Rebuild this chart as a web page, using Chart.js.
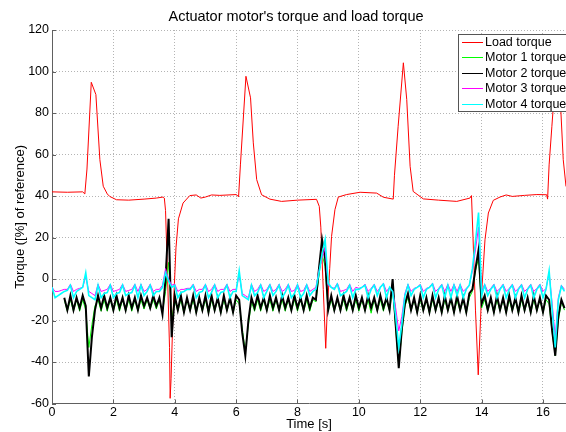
<!DOCTYPE html>
<html>
<head>
<meta charset="utf-8">
<script src="https://cdn.jsdelivr.net/npm/chart.js@4.4.0/dist/chart.umd.min.js"></script>
<style>
    html, body { margin: 0; padding: 0; background: #fff; }
</style>
</head>
<body>
<canvas id="torqueChart" width="566" height="432"></canvas>
<script>
/* --- Data --- */
const chartTitle = "Actuator motor's torque and load torque";
const seriesLabels = ['Load torque', 'Motor 1 torque', 'Motor 2 torque', 'Motor 3 torque', 'Motor 4 torque'];

// Load torque, irregular samples [s]
const loadTime = [0, 0.5, 1.0, 1.07, 1.14, 1.28, 1.43, 1.56, 1.67, 1.8,
    1.88, 2.1, 2.5, 3.0, 3.4, 3.62, 3.66, 3.7, 3.77, 3.83,
    3.85, 3.88, 3.94, 3.99, 4.04, 4.12, 4.27, 4.49, 4.7, 4.85,
    5.0, 5.2, 5.47, 6.01, 6.08, 6.14, 6.32, 6.47, 6.56, 6.67,
    6.83, 7.1, 7.48, 8.0, 8.62, 8.71, 8.76, 8.84, 8.92, 8.97,
    9.05, 9.11, 9.22, 9.33, 9.6, 10.04, 10.58, 10.8, 11.12, 11.16,
    11.28, 11.45, 11.56, 11.67, 11.77, 12.1, 12.6, 13.19, 13.62, 13.67,
    13.72, 13.8, 13.89, 13.95, 14.0, 14.11, 14.22, 14.38, 14.6, 14.8,
    15.0, 15.4, 15.8, 16.12, 16.15, 16.2, 16.29, 16.42, 16.5, 16.58,
    16.66, 16.75];
const loadTorque = [42, 41.8, 42, 41, 53, 94.8, 88.9, 57.5, 44.7, 41,
    39.8, 38.2, 38, 38.5, 39, 39.5, 39, 33, -1, -33,
    -57.5, -48, -18, -2, 15, 29, 36.6, 40.2, 40.5, 39,
    39.5, 40.5, 40.3, 40.7, 39.6, 55, 97.7, 87.3, 65.6, 47.9,
    40.6, 38.5, 37.4, 38, 38.4, 35, 25, -5, -33.4, -15,
    5, 20.5, 33.4, 39.5, 40.7, 41.8, 41.4, 39.4, 38.5, 50,
    73.6, 104.2, 86.5, 54.3, 42.2, 38.6, 38, 37.4, 39, 40.2,
    20, -15, -46.2, -25, -6.8, 18.9, 31.8, 37.9, 39.5, 40.5,
    39.8, 40.3, 40.7, 40.6, 38.5, 55, 73.6, 100, 92, 81.7,
    57.5, 44.6];

// Motor torques, sampled every 0.1 s
const motorTime = [0, 0.1, 0.2, 0.3, 0.4, 0.5, 0.6, 0.7, 0.8, 0.9,
    1, 1.1, 1.2, 1.3, 1.4, 1.5, 1.6, 1.7, 1.8, 1.9,
    2, 2.1, 2.2, 2.3, 2.4, 2.5, 2.6, 2.7, 2.8, 2.9,
    3, 3.1, 3.2, 3.3, 3.4, 3.5, 3.6, 3.7, 3.8, 3.9,
    4, 4.1, 4.2, 4.3, 4.4, 4.5, 4.6, 4.7, 4.8, 4.9,
    5, 5.1, 5.2, 5.3, 5.4, 5.5, 5.6, 5.7, 5.8, 5.9,
    6, 6.1, 6.2, 6.3, 6.4, 6.5, 6.6, 6.7, 6.8, 6.9,
    7, 7.1, 7.2, 7.3, 7.4, 7.5, 7.6, 7.7, 7.8, 7.9,
    8, 8.1, 8.2, 8.3, 8.4, 8.5, 8.6, 8.7, 8.8, 8.9,
    9, 9.1, 9.2, 9.3, 9.4, 9.5, 9.6, 9.7, 9.8, 9.9,
    10, 10.1, 10.2, 10.3, 10.4, 10.5, 10.6, 10.7, 10.8, 10.9,
    11, 11.1, 11.2, 11.3, 11.4, 11.5, 11.6, 11.7, 11.8, 11.9,
    12, 12.1, 12.2, 12.3, 12.4, 12.5, 12.6, 12.7, 12.8, 12.9,
    13, 13.1, 13.2, 13.3, 13.4, 13.5, 13.6, 13.7, 13.8, 13.9,
    14, 14.1, 14.2, 14.3, 14.4, 14.5, 14.6, 14.7, 14.8, 14.9,
    15, 15.1, 15.2, 15.3, 15.4, 15.5, 15.6, 15.7, 15.8, 15.9,
    16, 16.1, 16.2, 16.3, 16.4, 16.5, 16.6, 16.7];

const motor1 = [null, null, null, null, -10, -15.5, -10, -15.5, -10, -15.5,
    -10, -15, -33, -22, -13, -10, -15.5, -10, -15.5, -10,
    -15.5, -10, -15.5, -10, -15.5, -10, -15.5, -10, -15.5, -10,
    -14.5, -10, -14.5, -10, -14.5, -10, -16, -6, 8, -20,
    -10, -15.5, -10, -16.5, -10, -15.5, -10, -16.5, -10, -15.5,
    -10, -16.5, -10, -15.5, -10, -16.5, -10, -15.5, -10, -16.5,
    -10, -12, -24, -35, -22, -11, -15.5, -10, -15.5, -10,
    -15.5, -10, -15.5, -10, -15.5, -10, -15.5, -10, -15.5, -10,
    -15.5, -10, -15.5, -10, -15.5, -10, -11, 2, 12, 6,
    -15.5, -10, -15.5, -10, -15.5, -10, -15.5, -10, -15.5, -10,
    -15.5, -10, -15.5, -10, -16.5, -10, -15.5, -10, -15.5, -10,
    -15.5, -4, -24, -42, -26, -13, -9, -15.5, -10, -16.5,
    -10, -15.5, -10, -16.5, -10, -15.5, -10, -16.5, -10, -15.5,
    -10, -16.5, -10, -15.5, -10, -16.5, -9, -6, 4, 10,
    -14, -10, -15.5, -10, -16.5, -10, -15.5, -10, -16.5, -10,
    -15.5, -10, -16.5, -10, -15.5, -10, -16.5, -10, -15.5, -10,
    -16.5, -10, -12, -26, -37, -20, -11, -15];

const motor2 = [null, null, null, null, -9, -15, -8, -15, -9, -14,
    -8, -13, -47, -28, -15, -8, -14, -8, -14, -9,
    -15, -8, -14, -9, -15, -8, -14, -9, -15, -8,
    -13, -9, -14, -8, -13, -9, -17, 0, 29, -28,
    -8, -15, -8, -16, -9, -15, -8, -16, -9, -15,
    -8, -16, -8, -15, -9, -16, -8, -15, -9, -16,
    -8, -10, -26, -37, -20, -9, -14, -8, -14, -9,
    -15, -8, -14, -9, -15, -8, -14, -9, -15, -8,
    -14, -9, -15, -8, -14, -9, -10, 5, 19, 10,
    -15, -8, -15, -9, -15, -8, -14, -9, -15, -8,
    -14, -9, -15, -8, -14, -9, -15, -8, -14, -9,
    -15, 0, -22, -43, -24, -12, -7, -15, -9, -16,
    -8, -15, -9, -16, -8, -15, -9, -16, -8, -15,
    -9, -16, -8, -15, -9, -16, -7, -5, 5, 14,
    -12, -8, -15, -9, -16, -8, -15, -9, -16, -8,
    -15, -9, -16, -8, -15, -9, -16, -8, -15, -9,
    -16, -8, -10, -25, -37, -18, -10, -14];

const motor3 = [-4, -6, -6, -5.5, -5, -5, -2.5, -6, -5, -4.5,
    -4, 1, -6, -7, -8, -2.5, -6, -5.5, -5, -2.5,
    -6, -5.5, -5, -2.5, -6, -5.5, -5, -2.5, -6, -2.5,
    -6, -5, -2.5, -6, -5, -5, -3, 5, 0, -3,
    -2.5, -6, -5, -5, -4.5, -4.5, -2.5, -6, -5, -5,
    -2.5, -6, -5, -2.5, -6, -5, -5, -2.5, -6, -5,
    -5, 2, -7, -8, -9, -2.5, -6, -5, -2.5, -6,
    -5, -2.5, -6, -5, -2.5, -6, -5, -2.5, -6, -5.5,
    -2.5, -6, -5.5, -2.5, -6, -5, -4, 4, 10, 15,
    -3, -4, -4.5, -2, -6, -5.5, -5, -2.5, -6, -4,
    -4.5, -4, -2.5, -6, -4.5, -2.5, -6, -4, -2, -6,
    -4, -6, -14, -25, -18, -7, -2.5, -6, -4.5, -4,
    -2.5, -6, -4.5, -4, -2, -6, -4.5, -2.5, -6, -2.5,
    -6, -2.5, -6, -2.5, -6, -4.5, -3, 4, 14, 25,
    -6, -2.5, -6, -4.5, -2.5, -6, -4.5, -2.5, -6, -4.5,
    -2.5, -6, -4.5, -2.5, -6, -4.5, -2.5, -6, -4.5, -2.5,
    -6, -4.5, 3, -12, -28, -9, -3, -5];

const motor4 = [-4, -9, -8, -7, -6, -5.5, -3, -9, -6, -5,
    -4, 3, -8, -9, -10, -3, -9, -7, -6.5, -3,
    -9, -7, -6.5, -3, -8, -7, -6.5, -3, -9, -3,
    -8, -6, -3, -8, -6, -6, -4, 3, -1, -4,
    -3, -9, -6.5, -6, -5, -5, -3, -9, -6.5, -6,
    -3, -9, -6.5, -3, -9, -6.5, -6, -3, -9, -6,
    -6, 4, -8, -9, -10, -3, -8, -6.5, -3, -9,
    -6, -3, -8, -6, -3, -9, -6.5, -3, -9, -7,
    -3, -9, -7, -3, -8, -6, -5, 3, 12, 19,
    -2, -4, -5, -2.5, -8, -7, -6, -3, -9, -5,
    -5, -4, -3, -9, -5, -3, -8, -4, -2.5, -9,
    -4, -6, -18, -33, -22, -8, -3, -8, -5, -4,
    -3, -9, -5, -4, -2.5, -9, -5, -3, -9, -3,
    -9, -3, -8, -3, -9, -5, -3, 5, 18, 32,
    -8, -3, -8, -5, -3, -9, -5, -3, -9, -5,
    -3, -9, -5, -3, -9, -5, -3, -9, -5, -3,
    -9, -5, 4, -15, -33, -10, -3.5, -6];

const seriesColors = ['#ff0000', '#00ff00', '#000000', '#ff00ff', '#00ffff'];
const seriesWidths = [1, 1, 2, 1, 1.6];

const FONT = '"Liberation Sans", Arial, sans-serif';
Chart.defaults.font.family = FONT;
Chart.defaults.font.size = 12.5;
Chart.defaults.color = '#000';

function toPoints(xs, ys) {
    return xs.map((x, i) => ({ x: x, y: ys[i] }));
}

/* --- Title drawn above the axes (MATLAB centres it a bit right) --- */
const titlePlugin = {
    id: 'plotTitle',
    afterDraw(chart) {
        const ctx = chart.ctx;
        ctx.save();
        ctx.font = '14.5px ' + FONT;
        ctx.fillStyle = '#000';
        ctx.textAlign = 'center';
        ctx.textBaseline = 'middle';
        ctx.fillText(chartTitle, 296, 17);
        ctx.restore();
    }
};

/* --- Small inward tick marks on the left and bottom axes --- */
const innerTicksPlugin = {
    id: 'innerTicks',
    afterDatasetsDraw(chart) {
        const { ctx, chartArea, scales } = chart;
        ctx.save();
        ctx.strokeStyle = '#606060';
        ctx.lineWidth = 1;
        ctx.beginPath();
        scales.y.ticks.forEach((t) => {
            const y = Math.round(scales.y.getPixelForValue(t.value)) + 0.5;
            ctx.moveTo(chartArea.left, y);
            ctx.lineTo(chartArea.left + 4, y);
        });
        scales.x.ticks.forEach((t) => {
            const x = Math.round(scales.x.getPixelForValue(t.value)) + 0.5;
            ctx.moveTo(x, chartArea.bottom);
            ctx.lineTo(x, chartArea.bottom - 4);
        });
        ctx.stroke();
        ctx.restore();
    }
};

/* --- Boxed legend inside the axes, top right --- */
const legendBoxPlugin = {
    id: 'legendBox',
    afterDatasetsDraw(chart) {
        const ctx = chart.ctx;
        const x0 = 458, y0 = 34, w = 130, h = 77;
        ctx.save();
        ctx.fillStyle = '#fff';
        ctx.fillRect(x0, y0, w, h);
        ctx.strokeStyle = '#555';
        ctx.lineWidth = 1;
        ctx.strokeRect(x0 + 0.5, y0 + 0.5, w, h);
        ctx.font = '12.5px ' + FONT;
        ctx.textBaseline = 'middle';
        ctx.textAlign = 'left';
        chart.data.datasets.forEach((ds, i) => {
            const y = Math.round(42 + i * 15.4) + 0.5;
            ctx.strokeStyle = ds.borderColor;
            ctx.lineWidth = 1;
            ctx.beginPath();
            ctx.moveTo(462, y);
            ctx.lineTo(483, y);
            ctx.stroke();
            ctx.fillStyle = '#000';
            ctx.fillText(ds.label, 485, y);
        });
        ctx.restore();
    }
};

const motorSeries = [motor1, motor2, motor3, motor4];
const datasets = [{
    label: seriesLabels[0],
    data: toPoints(loadTime, loadTorque),
    borderColor: seriesColors[0],
    borderWidth: seriesWidths[0],
    order: 5
}];
motorSeries.forEach((vals, i) => {
    datasets.push({
        label: seriesLabels[i + 1],
        data: toPoints(motorTime, vals),
        borderColor: seriesColors[i + 1],
        borderWidth: seriesWidths[i + 1],
        order: 4 - i
    });
});

const ctx = document.getElementById('torqueChart').getContext('2d');
new Chart(ctx, {
    type: 'line',
    data: { datasets: datasets },
    options: {
        responsive: false,
        animation: false,
        events: [],
        layout: { padding: { top: 30, left: 0, right: 0, bottom: 0 } },
        elements: {
            line: { tension: 0, fill: false },
            point: { radius: 0 }
        },
        plugins: {
            legend: { display: false },
            tooltip: { enabled: false },
            title: { display: false }
        },
        scales: {
            x: {
                type: 'linear',
                min: 0,
                max: 16.75,
                afterFit: (scale) => { scale.height = 28.5; },
                ticks: { stepSize: 2, includeBounds: false, padding: 2, maxRotation: 0 },
                grid: { color: '#b4b4b4', drawTicks: false },
                border: { color: '#606060', dash: [1, 2] },
                title: { display: true, text: 'Time [s]', font: { size: 13 }, padding: { top: 0, bottom: 0 } }
            },
            y: {
                min: -60,
                max: 120,
                afterFit: (scale) => { scale.width = 52; },
                ticks: { stepSize: 20, padding: 3 },
                grid: { color: '#b4b4b4', drawTicks: false },
                border: { color: '#606060', dash: [1, 2] },
                title: { display: true, text: 'Torque ([%] of reference)', font: { size: 13 }, padding: { top: 13, bottom: 0 } }
            }
        }
    },
    plugins: [titlePlugin, innerTicksPlugin, legendBoxPlugin]
});
</script>
</body>
</html>
